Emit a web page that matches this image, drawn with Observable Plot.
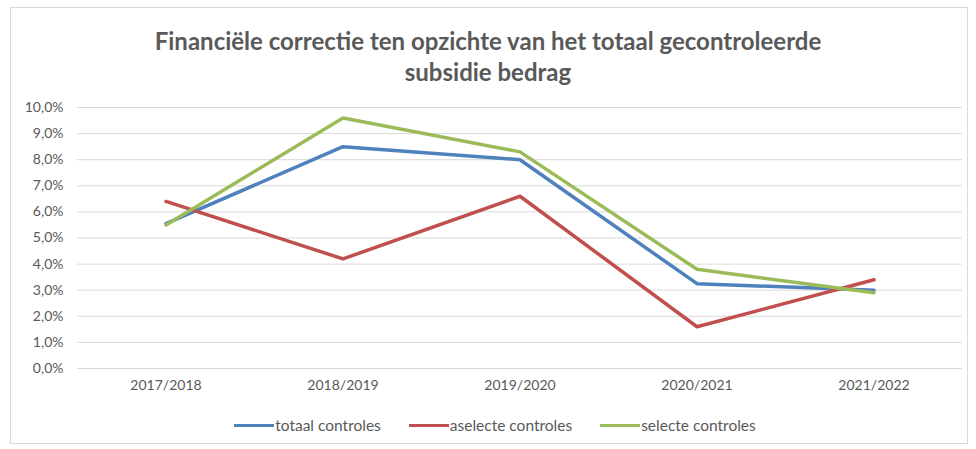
<!DOCTYPE html>
<html>
<head>
<meta charset="utf-8">
<script src="https://cdn.jsdelivr.net/npm/d3@7"></script>
<script src="https://cdn.jsdelivr.net/npm/@observablehq/plot@0.6"></script>
<style>
  html, body { margin: 0; padding: 0; background: #fff; }
  body { width: 976px; height: 449px; position: relative; overflow: hidden; font-family: Lato, "Open Sans", sans-serif; }
  #frame { position: absolute; left: 10px; top: 7px; width: 958px; height: 437px; border: 1px solid #d9d9d9; box-sizing: border-box; }
  #title { position: absolute; left: 0; top: 25px; width: 976px; text-align: center; color: #595959; font-weight: bold; font-size: 24px; line-height: 31px; }
  #chart { position: absolute; left: 0; top: 95px; }
  #legend { position: absolute; left: 0; top: 416px; width: 976px; display: flex; justify-content: center; gap: 28px; font-size: 15.5px; color: #595959; margin-left: 7px; }
  .item { display: flex; align-items: center; }
  .sw { display: inline-block; width: 40px; height: 3px; margin-right: 1px; }
</style>
</head>
<body>
<div id="frame"></div>
<div id="title">Financiële correctie ten opzichte van het totaal gecontroleerde<br>subsidie bedrag</div>
<div id="chart"></div>
<div id="legend"></div>
<script>
const years = ["2017/2018", "2018/2019", "2019/2020", "2020/2021", "2021/2022"];
const seriesNames = ["totaal controles", "aselecte controles", "selecte controles"];
const totaal = [5.55, 8.5, 8.0, 3.25, 3.0];
const aselecte = [6.4, 4.2, 6.6, 1.6, 3.4];
const selecte = [5.5, 9.6, 8.3, 3.8, 2.9];
const colors = ["#4F81BD", "#C0504D", "#9BBB59"];
const yTicks = [0, 1, 2, 3, 4, 5, 6, 7, 8, 9, 10];

const valuesBySeries = [totaal, aselecte, selecte];
const data = [];
seriesNames.forEach((s, i) => years.forEach((y, j) => data.push({series: s, year: y, value: valuesBySeries[i][j]})));

const fmt = d => d.toFixed(1).replace(".", ",") + "%";

const chart = Plot.plot({
  width: 976,
  height: 305,
  marginLeft: 77,
  marginRight: 14,
  marginTop: 12,
  marginBottom: 32,
  style: { fontFamily: "Lato, 'Open Sans', sans-serif", fontSize: "14px", color: "#595959", background: "transparent" },
  x: { type: "band", domain: years, padding: 0, label: null, tickSize: 0, tickPadding: 13 },
  y: { domain: [0, 10], ticks: yTicks, tickFormat: fmt, label: null, tickSize: 0, tickPadding: 14 },
  color: { domain: seriesNames, range: colors },
  marks: [
    Plot.gridY(yTicks, { stroke: "#d9d9d9", strokeOpacity: 1, strokeWidth: 1 }),
    Plot.axisX({ tickSize: 0, tickPadding: 12, fontSize: 14, fill: "#595959" }),
    Plot.axisY({ ticks: yTicks, tickFormat: fmt, tickSize: 0, tickPadding: 14, fontSize: 14, fill: "#595959" }),
    Plot.line(data, { x: "year", y: "value", z: "series", stroke: "series", strokeWidth: 3.5, strokeLinejoin: "round", strokeLinecap: "round" })
  ]
});
document.getElementById("chart").appendChild(chart);

const legend = document.getElementById("legend");
seriesNames.forEach((s, i) => {
  const it = document.createElement("div");
  it.className = "item";
  const sw = document.createElement("span");
  sw.className = "sw";
  sw.style.background = colors[i];
  const t = document.createElement("span");
  t.textContent = s;
  it.appendChild(sw); it.appendChild(t);
  legend.appendChild(it);
});
</script>
</body>
</html>
